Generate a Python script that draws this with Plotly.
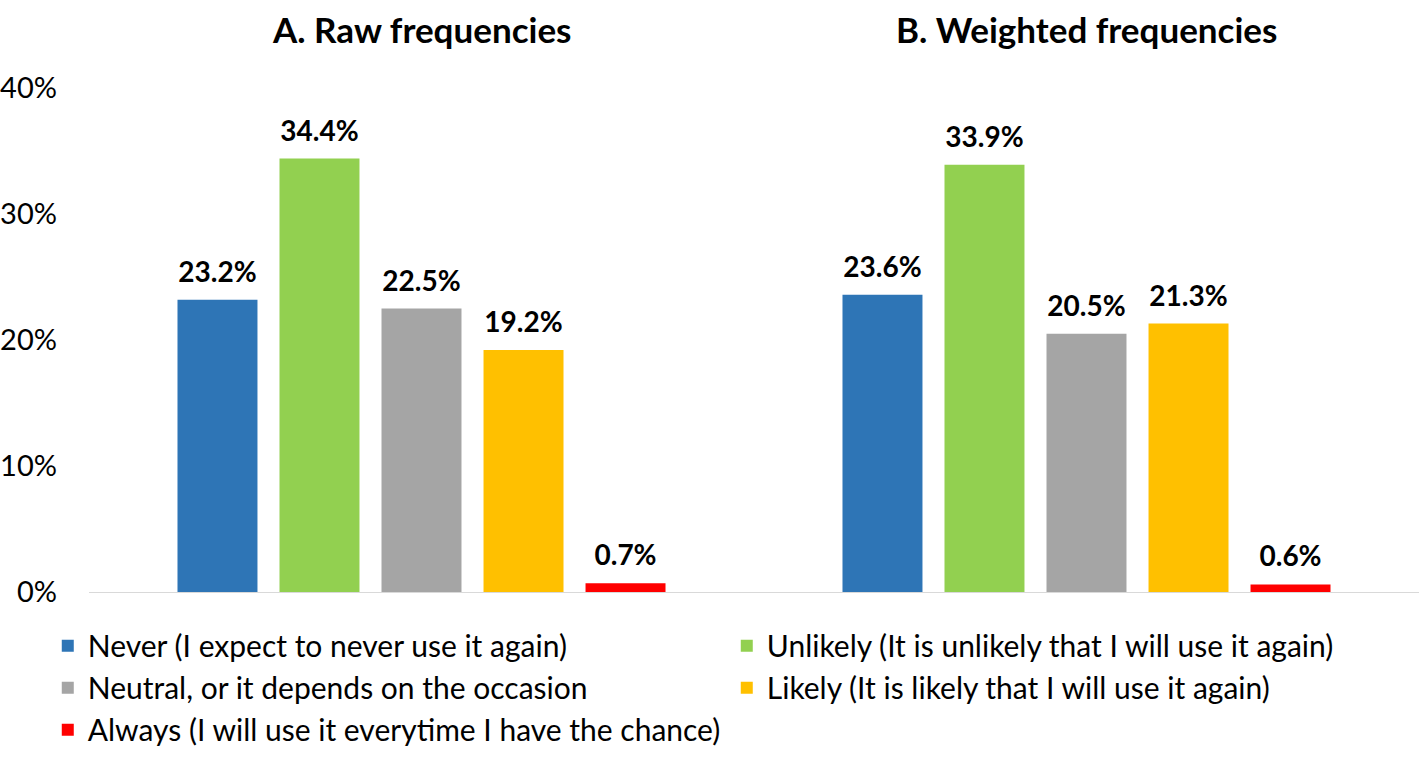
import plotly.graph_objects as go

categories = ["A. Raw frequencies", "B. Weighted frequencies"]
series_names = [
    "Never (I expect to never use it again)",
    "Unlikely (It is unlikely that I will use it again)",
    "Neutral, or it depends on the occasion",
    "Likely (It is likely that I will use it again)",
    "Always (I will use it everytime I have the chance)",
]
never = [0.232, 0.236]
unlikely = [0.344, 0.339]
neutral = [0.225, 0.205]
likely = [0.192, 0.213]
always = [0.007, 0.006]
colors = ["#2E75B6", "#92D050", "#A5A5A5", "#FFC000", "#FF0000"]
tick_vals = [0, 0.1, 0.2, 0.3, 0.4]
tick_text = ["0%", "10%", "20%", "30%", "40%"]

FONT = "Lato"
fig = go.Figure()
for name, vals, col in zip(series_names, [never, unlikely, neutral, likely, always], colors):
    fig.add_trace(go.Bar(
        x=categories, y=vals, name=name, marker=dict(color=col, line=dict(width=0)),
        texttemplate="<span style='font-size:28px'><b>%{y:.1%}</b></span><br> ",
        textposition="outside", cliponaxis=False,
        textfont=dict(family=FONT, size=10, color="black"),
    ))

for c in categories:
    fig.add_annotation(x=c, xref="x", y=1.0, yref="paper", yshift=36,
                       text="<b>%s</b>" % c, showarrow=False, yanchor="bottom",
                       font=dict(family=FONT, size=35, color="black"))

fig.update_layout(
    width=1419, height=771,
    margin=dict(l=89, r=0, t=88, b=179, autoexpand=False),
    plot_bgcolor="white", paper_bgcolor="white",
    barmode="group", bargap=0.233, bargroupgap=0.216,
    showlegend=True,
    legend=dict(orientation="h", x=-0.031, xanchor="left", y=-0.055, yanchor="top",
                entrywidth=634, entrywidthmode="pixels",
                font=dict(family=FONT, size=30, color="black"), itemsizing="constant",
                traceorder="normal"),
    font=dict(family=FONT),
)
fig.update_xaxes(showticklabels=False, showline=True, linecolor="#D9D9D9", linewidth=1,
                 ticks="", showgrid=False, automargin=False)
fig.update_yaxes(range=[0, 0.4], tickvals=tick_vals, ticktext=tick_text, showgrid=False,
                 zeroline=False, showline=False, automargin=False,
                 tickfont=dict(family=FONT, size=29, color="black"), ticklabelstandoff=31)

fig.write_html("out.html", config={"displayModeBar": False},
               post_script="document.body.style.margin='0px';")
